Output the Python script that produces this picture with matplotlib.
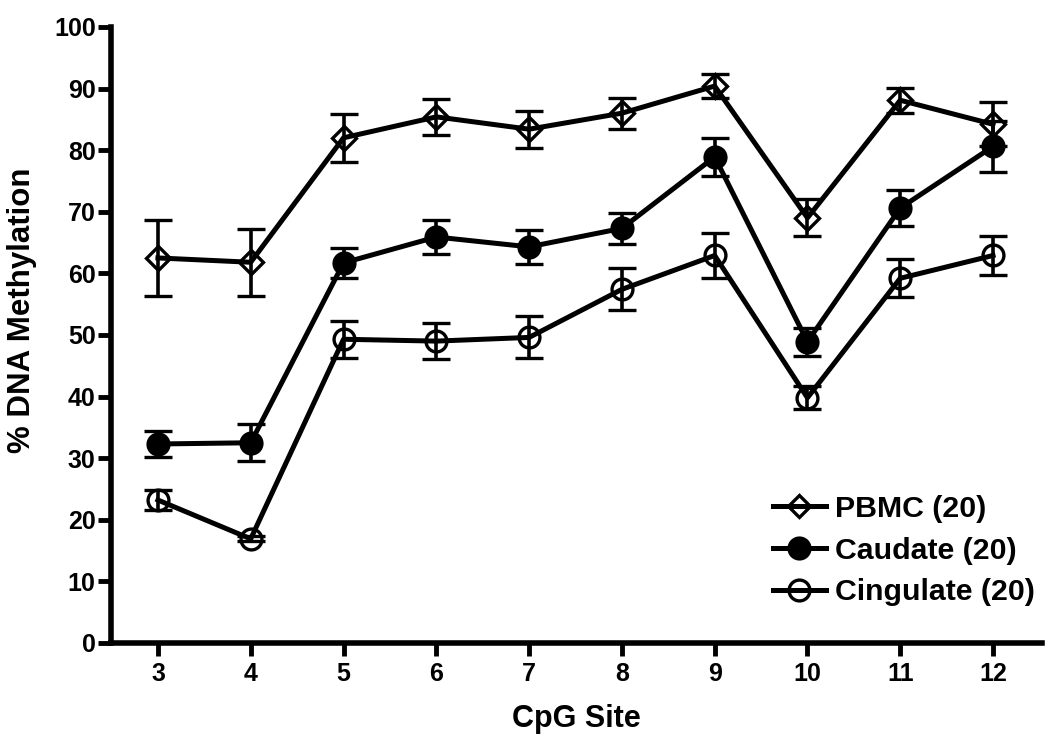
import matplotlib
matplotlib.use("Agg")
import matplotlib.pyplot as plt
from matplotlib.lines import Line2D

plt.rcParams['font.family'] = ['Liberation Sans', 'DejaVu Sans']
plt.rcParams['font.weight'] = 'bold'

sites = [3, 4, 5, 6, 7, 8, 9, 10, 11, 12]
pbmc = [62.5, 61.8, 82.0, 85.4, 83.4, 86.0, 90.4, 69.0, 88.1, 84.2]
pbmc_err = [6.2, 5.4, 3.9, 2.9, 3.0, 2.5, 2.0, 3.0, 2.0, 3.6]
caudate = [32.3, 32.5, 61.7, 65.9, 64.3, 67.3, 78.9, 48.9, 70.6, 80.6]
caudate_err = [2.1, 3.0, 2.4, 2.8, 2.8, 2.5, 3.1, 2.3, 2.9, 4.1]
cingulate = [23.2, 16.9, 49.3, 49.0, 49.6, 57.4, 62.9, 39.8, 59.2, 62.9]
cingulate_err = [1.6, 0.4, 3.0, 2.9, 3.4, 3.4, 3.7, 1.9, 3.1, 3.2]
labels = ['PBMC (20)', 'Caudate (20)', 'Cingulate (20)']

fig = plt.figure(figsize=(10.5, 7.44), dpi=100)
ax = fig.add_axes([0.1057, 0.1358, 0.8867, 0.828])

lw = 3.6
common = dict(color='black', lw=lw, elinewidth=2.6, capsize=10, capthick=2.6, markeredgewidth=2.4)
ax.errorbar(sites, cingulate, yerr=cingulate_err, marker='o', ms=15, mfc='none', mec='black', **common)
ax.errorbar(sites, caudate, yerr=caudate_err, marker='o', ms=15, mfc='black', mec='black', **common)
ax.errorbar(sites, pbmc, yerr=pbmc_err, marker='D', ms=12.5, mfc='none', mec='black', **common)

ax.set_xlim(2.494, 12.528)
ax.set_ylim(0, 100)
ax.set_xticks(sites)
ax.set_yticks(range(0, 101, 10))
for s in ['top', 'right']:
    ax.spines[s].set_visible(False)
for s in ['left', 'bottom']:
    ax.spines[s].set_linewidth(4)
ax.tick_params(axis='both', length=9.5, width=3.5, labelsize=18)
ax.tick_params(axis='y', pad=1.5)
ax.tick_params(axis='x', pad=4)
for t in ax.get_xticklabels() + ax.get_yticklabels():
    t.set_fontweight('bold')

ax.set_xlabel('CpG Site', fontsize=22, fontweight='bold')
ax.set_ylabel('% DNA Methylation', fontsize=22.5, fontweight='bold')
ax.xaxis.set_label_coords(0.5, -0.099)
ax.yaxis.set_label_coords(-0.080, 0.54)

handles = [
    Line2D([], [], color='black', lw=lw, marker='D', ms=11, mfc='none', mew=2.4),
    Line2D([], [], color='black', lw=lw, marker='o', ms=15, mfc='black', mew=2.4),
    Line2D([], [], color='black', lw=lw, marker='o', ms=15, mfc='none', mew=2.4),
]
leg = ax.legend(handles, labels, loc='lower right', bbox_to_anchor=(1.005, 0.04),
                frameon=False, fontsize=21.8, handlelength=1.75, handletextpad=0.3,
                labelspacing=0.45, borderaxespad=0)
for t in leg.get_texts():
    t.set_fontweight('bold')

fig.savefig('out.png', dpi=100)
